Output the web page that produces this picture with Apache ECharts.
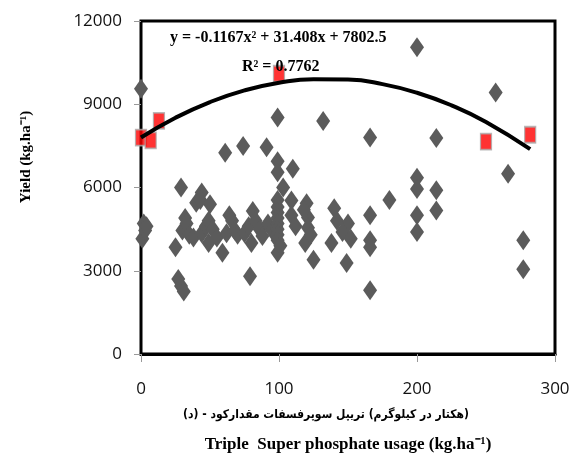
<!DOCTYPE html>
<html>
<head>
<meta charset="utf-8">
<script src="https://cdn.jsdelivr.net/npm/echarts@6/dist/echarts.min.js"></script>
<style>
  html, body { margin: 0; padding: 0; background: #fff; }
  #chart { width: 579px; height: 474px; }
</style>
</head>
<body>
<div id="chart"></div>
<script>
// field observations (kg/ha of TSP vs yield)
const obsX = [0, 2, 1, 3, 4,
  25, 27, 29, 31, 29, 32, 30, 33, 35,
  38, 40, 44, 44, 43, 47, 49, 49, 50, 52, 55,
  59, 61, 62, 64, 66, 68, 70,
  74, 75, 78, 79, 80, 81, 83, 86, 88,
  91, 92, 95, 98, 99, 99, 99, 99, 99, 99, 99, 99, 99, 99, 99, 99, 103, 101,
  110, 109, 109, 112, 120, 121, 121, 119, 125, 123, 118,
  132, 140, 142, 138, 150, 149, 146, 152,
  166, 166, 166, 166, 166,
  180, 200, 200, 200, 200, 200, 214, 214, 214,
  257, 266, 277, 277];
const obsY = [9560, 4700, 4150, 4450, 4600,
  3850, 2700, 2450, 2250, 6000, 4900, 4450, 4700, 4300,
  4200, 5450, 5820, 4350, 5550, 4600, 4800, 4000, 5400, 4500, 4200,
  3650, 7250, 4350, 5000, 4800, 4450, 4300,
  7500, 4350, 4600, 2800, 4000, 5150, 4800, 4500, 4250,
  7450, 4700, 4450, 4600, 8520, 6950, 6550, 5550, 5300, 5100, 4900, 4700, 4500, 4300, 4100, 3650, 6000, 3900,
  6680, 5530, 5000, 4600, 5430, 4920, 4550, 4000, 3400, 4300, 5200,
  8400, 5250, 4800, 4000, 4700, 3280, 4400, 4150,
  7800, 5000, 4100, 3850, 2300,
  5550, 11050, 6350, 5950, 5000, 4400, 7780, 5900, 5170,
  9420, 6500, 4100, 3050];

// highlighted (red) points
const optX = [0, 7, 13, 100, 250, 282];
const optY = [7800, 7700, 8400, 10100, 7650, 7900];

// fitted quadratic, points
const trendX = [0, 25, 50, 75, 100, 125, 150, 175, 200, 225, 250, 282];
const trendY = [7800, 8515, 9080, 9500, 9775, 9905, 9890, 9725, 9415, 8960, 8360, 7380];

const xTicks = [0, 100, 200, 300];
const yTicks = [0, 3000, 6000, 9000, 12000];

// Persian axis title, words in the left-to-right order used in the figure
const faWords = ['(د)', '-', 'مقدارکود', 'سوپرفسفات', 'تریپل', '(کیلوگرم', 'در', 'هکتار)'];

const zip = (a, b) => a.map((v, i) => [v, b[i]]);

const myChart = echarts.init(document.getElementById('chart'));
const serif = '"Liberation Serif", "Times New Roman", serif';
const tickFont = '"Open Sans", sans-serif';
const faFont = 'bold 12px "DejaVu Sans Condensed", "DejaVu Sans", sans-serif';

// lay the Persian words out one by one so the bidi reordering can't flip them
function persianTitle(cx, cy) {
  const ctx = document.createElement('canvas').getContext('2d');
  ctx.font = faFont;
  const gap = ctx.measureText(' ').width;
  const widths = faWords.map(w => ctx.measureText(w).width);
  const total = widths.reduce((s, w) => s + w, 0) + gap * (faWords.length - 1);
  let x = cx - total / 2;
  return faWords.map((w, i) => {
    const el = {
      type: 'text', x: x, y: cy, z: 10,
      style: { text: w, font: faFont, fill: '#000', align: 'left', verticalAlign: 'middle' }
    };
    x += widths[i] + gap;
    return el;
  });
}

const option = {
  animation: false,
  grid: {
    left: 141, right: 24, top: 21, bottom: 120,
    show: true, borderColor: '#000', borderWidth: 3
  },
  xAxis: {
    type: 'value',
    min: xTicks[0], max: xTicks[xTicks.length - 1], interval: 100,
    axisLine: { lineStyle: { color: '#000', width: 3 } },
    axisTick: { show: true, length: 8, lineStyle: { color: '#999', width: 1 } },
    axisLabel: { margin: 27, color: '#111', fontSize: 17, fontFamily: tickFont },
    splitLine: { show: false }
  },
  yAxis: {
    type: 'value',
    min: yTicks[0], max: yTicks[yTicks.length - 1], interval: 3000,
    axisLine: { show: true, lineStyle: { color: '#000', width: 2 } },
    axisTick: { show: true, length: 7, lineStyle: { color: '#999', width: 1 } },
    axisLabel: {
      margin: 19, color: '#111', fontSize: 17, fontFamily: tickFont,
      formatter: v => String(v)
    },
    splitLine: { show: false }
  },
  series: [
    {
      type: 'scatter',
      data: zip(obsX, obsY),
      symbol: 'diamond',
      symbolSize: [14, 20],
      itemStyle: { color: '#5b5b5b', opacity: 1 },
      z: 2
    },
    {
      type: 'scatter',
      data: zip(optX, optY),
      symbol: 'rect',
      symbolSize: [11, 16],
      itemStyle: { color: '#ff0000', borderColor: '#aaaaaa', borderWidth: 1.5 },
      z: 3
    },
    {
      type: 'line',
      data: zip(trendX, trendY),
      smooth: true,
      showSymbol: false,
      lineStyle: { color: '#000', width: 4 },
      z: 4
    }
  ],
  graphic: [
    {
      type: 'text', left: 170, top: 30, z: 10,
      style: { text: 'y = -0.1167x² + 31.408x + 7802.5', font: 'bold 16px ' + serif, fill: '#000' }
    },
    {
      type: 'text', left: 242, top: 59, z: 10,
      style: { text: 'R² = 0.7762', font: 'bold 16px ' + serif, fill: '#000' }
    },
    {
      type: 'text', x: 26, y: 157, rotation: Math.PI / 2, z: 10,
      style: { text: 'Yield (kg.ha⁻¹)', font: 'bold 15px ' + serif, fill: '#000', align: 'center', verticalAlign: 'middle' }
    },
    {
      type: 'text', x: 348, y: 445, z: 10,
      style: { text: 'Triple  Super phosphate usage (kg.ha⁻¹)', font: 'bold 17px ' + serif, fill: '#000', align: 'center', verticalAlign: 'middle' }
    }
  ].concat(persianTitle(326, 415))
};

myChart.setOption(option);
</script>
</body>
</html>
